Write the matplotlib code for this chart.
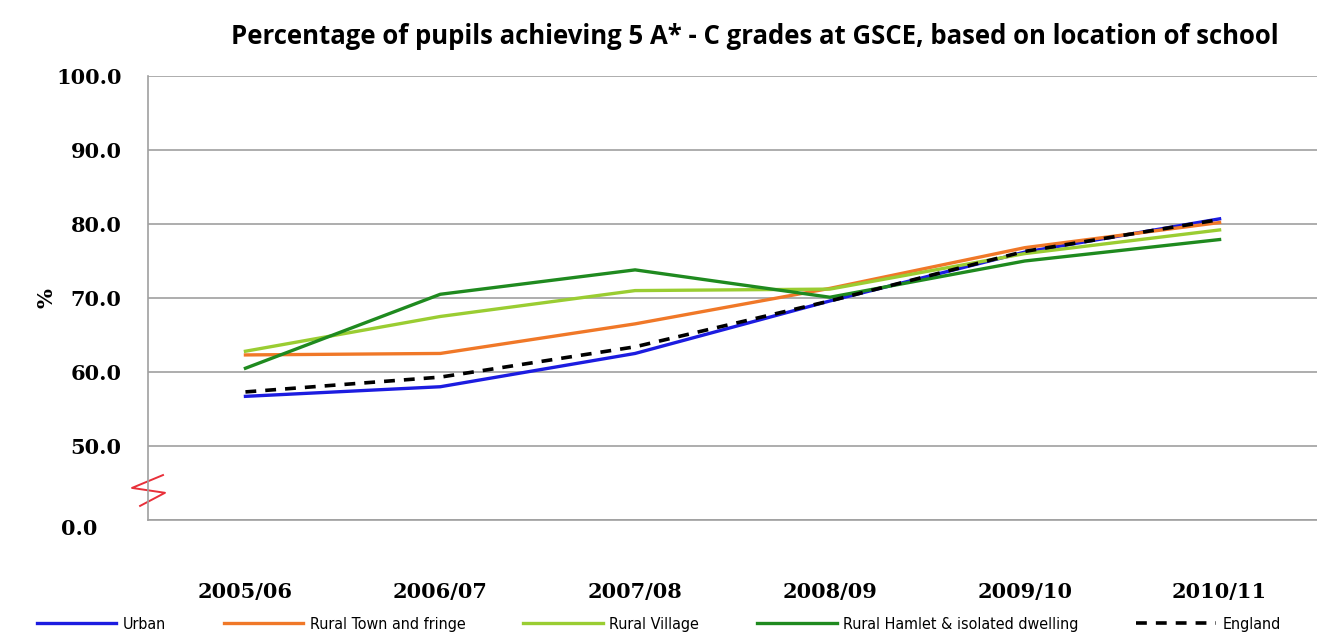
import numpy as np
import matplotlib.pyplot as plt
from matplotlib.transforms import ScaledTranslation

# Data (axis is broken: 40 is shown as 0.0)
years = ['2005/06', '2006/07', '2007/08', '2008/09', '2009/10', '2010/11']
urban = [56.7, 58.0, 62.5, 69.6, 76.2, 80.7]
rural_town = [62.3, 62.5, 66.5, 71.3, 76.8, 80.2]
rural_village = [62.8, 67.5, 71.0, 71.2, 76.0, 79.2]
rural_hamlet = [60.5, 70.5, 73.8, 70.1, 75.0, 77.9]
england = [57.3, 59.3, 63.4, 69.6, 76.3, 80.6]

yticks = [40, 50, 60, 70, 80, 90, 100]
ytick_labels = ['0.0', '50.0', '60.0', '70.0', '80.0', '90.0', '100.0']

fig = plt.figure(figsize=(13.17, 6.34), dpi=100)
ax = fig.add_axes([0.1124, 0.18, 0.8876, 0.70])

x = np.arange(len(years))
ax.plot(x, urban, color='#1c1ce0', lw=2.4, label='Urban', zorder=3)
ax.plot(x, rural_town, color='#f07828', lw=2.4, label='Rural Town and fringe', zorder=3)
ax.plot(x, rural_village, color='#9acd32', lw=2.4, label='Rural Village', zorder=3)
ax.plot(x, rural_hamlet, color='#1f8a1f', lw=2.4, label='Rural Hamlet & isolated dwelling', zorder=3)
ax.plot(x, england, color='black', lw=2.6, ls=(0, (3, 2.5)), label='England', zorder=4)

ax.set_xlim(-0.5, len(years) - 0.5)
ax.set_ylim(40, 100)
ax.set_yticks(yticks)
ax.set_yticklabels(ytick_labels)
ax.set_xticks(x)
ax.set_xticklabels(years)
ax.yaxis.grid(True, color='#a0a0a0', lw=1.2)
ax.set_axisbelow(True)
ax.tick_params(length=0)
for lab in ax.get_xticklabels() + ax.get_yticklabels():
    lab.set_fontfamily('DejaVu Serif')
    lab.set_fontweight('bold')
    lab.set_fontsize(15)
ax.tick_params(axis='x', pad=45)
ax.tick_params(axis='y', pad=19)

# the "0.0" label sits a little left and lower in the original
zero_lab = ax.get_yticklabels()[0]
zero_lab.set_transform(zero_lab.get_transform() +
                       ScaledTranslation(-0.24, -0.07, fig.dpi_scale_trans))

for s in ['top', 'right']:
    ax.spines[s].set_visible(False)
ax.spines['left'].set_color('#a0a0a0')
ax.spines['bottom'].set_color('#a0a0a0')
ax.spines['left'].set_linewidth(1.2)
ax.spines['bottom'].set_linewidth(1.2)

# red break mark on the y axis
ax.plot([0.0128, -0.0137, 0.0145, -0.0068], [0.101, 0.072, 0.061, 0.0315],
        transform=ax.transAxes, color='#e8303a', lw=1.4, clip_on=False)

fig.text(0.035, 0.53, '%', rotation=90, ha='center', va='center',
         fontfamily='DejaVu Serif', fontweight='bold', fontsize=15)

fig.text(0.573, 0.943, 'Percentage of pupils achieving 5 A* - C grades at GSCE, based on location of school',
         ha='center', va='center', fontsize=18.5, fontweight='bold', fontfamily='Open Sans')

fig.legend(loc='center', bbox_to_anchor=(0.5, 0.015), ncol=5, frameon=False,
           prop={'family': ['DejaVu Sans'], 'size': 11.5, 'stretch': 'condensed'},
           handlelength=5.0, columnspacing=3.6, handletextpad=0.4)

fig.savefig('out.png', dpi=100)
